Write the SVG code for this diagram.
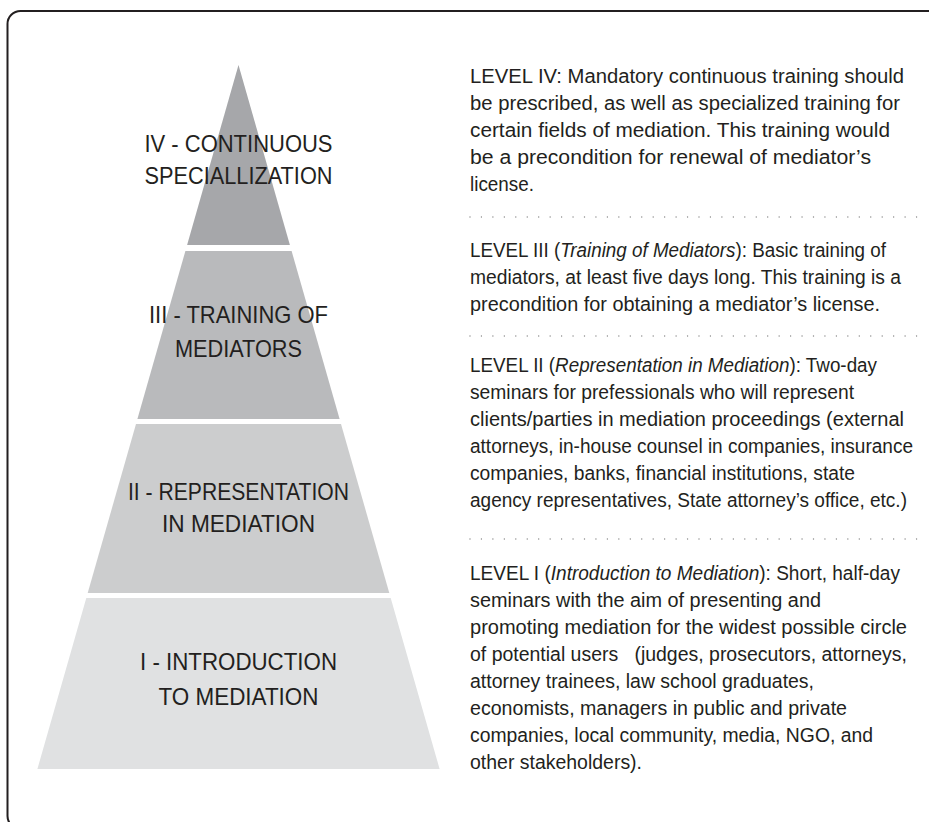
<svg xmlns="http://www.w3.org/2000/svg" width="929" height="822" viewBox="0 0 929 822">
<style>
.frame{fill:none;stroke:#231f20;stroke-width:2}
.lbl{font-family:"Liberation Sans",Arial,sans-serif;font-size:24px;fill:#231f20;text-anchor:middle}
.body{font-family:"Liberation Sans",Arial,sans-serif;font-size:19.5px;fill:#231f20}
.it{font-style:italic}
.sep{stroke:#8a8a8a;stroke-width:1.4;stroke-linecap:round;stroke-dasharray:0 11.45}
</style>
<rect class="frame" x="7.5" y="11" width="960" height="818" rx="13"/>
<g id="level4">
<polygon points="238.5,65 289.9,245 187.1,245" fill="#a6a7aa"/>
<text class="lbl"><tspan x="238.5" y="151.5" textLength="188" lengthAdjust="spacingAndGlyphs">IV - CONTINUOUS</tspan><tspan x="238.5" y="183.5" textLength="188" lengthAdjust="spacingAndGlyphs">SPECIALLIZATION</tspan></text>
</g>
<g id="level3">
<polygon points="185.4,251 291.6,251 339.6,419 137.4,419" fill="#b9babc"/>
<text class="lbl"><tspan x="238.5" y="323.3" textLength="179" lengthAdjust="spacingAndGlyphs">III - TRAINING OF</tspan><tspan x="238.5" y="357.3" textLength="127" lengthAdjust="spacingAndGlyphs">MEDIATORS</tspan></text>
</g>
<g id="level2">
<polygon points="136,424 341,424 389.3,593 87.7,593" fill="#cccdce"/>
<text class="lbl"><tspan x="238.5" y="500" textLength="221" lengthAdjust="spacingAndGlyphs">II - REPRESENTATION</tspan><tspan x="238.5" y="531.7" textLength="153" lengthAdjust="spacingAndGlyphs">IN MEDIATION</tspan></text>
</g>
<g id="level1">
<polygon points="86.3,598 390.7,598 439.6,769 37.4,769" fill="#e0e1e2"/>
<text class="lbl"><tspan x="238.5" y="670" textLength="197" lengthAdjust="spacingAndGlyphs">I - INTRODUCTION</tspan><tspan x="238.5" y="705" textLength="160" lengthAdjust="spacingAndGlyphs">TO MEDIATION</tspan></text>
</g>
<g id="desc4" class="body">
<text x="470" y="83" textLength="434" lengthAdjust="spacingAndGlyphs">LEVEL IV: Mandatory continuous training should</text>
<text x="470" y="110" textLength="430" lengthAdjust="spacingAndGlyphs">be prescribed, as well as specialized training for</text>
<text x="470" y="137" textLength="420" lengthAdjust="spacingAndGlyphs">certain fields of mediation. This training would</text>
<text x="470" y="164" textLength="401" lengthAdjust="spacingAndGlyphs">be a precondition for renewal of mediator’s</text>
<text x="470" y="191" textLength="64" lengthAdjust="spacingAndGlyphs">license.</text>
</g>
<g id="desc3" class="body">
<text x="470" y="257" textLength="416" lengthAdjust="spacingAndGlyphs">LEVEL III (<tspan class="it">Training of Mediators</tspan>): Basic training of</text>
<text x="470" y="284" textLength="431" lengthAdjust="spacingAndGlyphs">mediators, at least five days long. This training is a</text>
<text x="470" y="311" textLength="410" lengthAdjust="spacingAndGlyphs">precondition for obtaining a mediator’s license.</text>
</g>
<g id="desc2" class="body">
<text x="470" y="372" textLength="407" lengthAdjust="spacingAndGlyphs">LEVEL II (<tspan class="it">Representation in Mediation</tspan>): Two-day</text>
<text x="470" y="399" textLength="384" lengthAdjust="spacingAndGlyphs">seminars for prefessionals who will represent</text>
<text x="470" y="426" textLength="434" lengthAdjust="spacingAndGlyphs">clients/parties in mediation proceedings (external</text>
<text x="470" y="453" textLength="443" lengthAdjust="spacingAndGlyphs">attorneys, in-house counsel in companies, insurance</text>
<text x="470" y="480" textLength="385" lengthAdjust="spacingAndGlyphs">companies, banks, financial institutions, state</text>
<text x="470" y="507" textLength="437" lengthAdjust="spacingAndGlyphs">agency representatives, State attorney’s office, etc.)</text>
</g>
<g id="desc1" class="body">
<text x="470" y="580" textLength="430" lengthAdjust="spacingAndGlyphs">LEVEL I (<tspan class="it">Introduction to Mediation</tspan>): Short, half-day</text>
<text x="470" y="607" textLength="351" lengthAdjust="spacingAndGlyphs">seminars with the aim of presenting and</text>
<text x="470" y="634" textLength="437" lengthAdjust="spacingAndGlyphs">promoting mediation for the widest possible circle</text>
<text x="470" y="661" textLength="437" lengthAdjust="spacingAndGlyphs" xml:space="preserve">of potential users   (judges, prosecutors, attorneys,</text>
<text x="470" y="688" textLength="344" lengthAdjust="spacingAndGlyphs">attorney trainees, law school graduates,</text>
<text x="470" y="715" textLength="377" lengthAdjust="spacingAndGlyphs">economists, managers in public and private</text>
<text x="470" y="742" textLength="403" lengthAdjust="spacingAndGlyphs">companies, local community, media, NGO, and</text>
<text x="470" y="769" textLength="172" lengthAdjust="spacingAndGlyphs">other stakeholders).</text>
</g>
<g id="separators">
<line class="sep" x1="470" y1="217" x2="917" y2="217"/>
<line class="sep" x1="470" y1="336" x2="917" y2="336"/>
<line class="sep" x1="470" y1="539" x2="917" y2="539"/>
</g>
</svg>
